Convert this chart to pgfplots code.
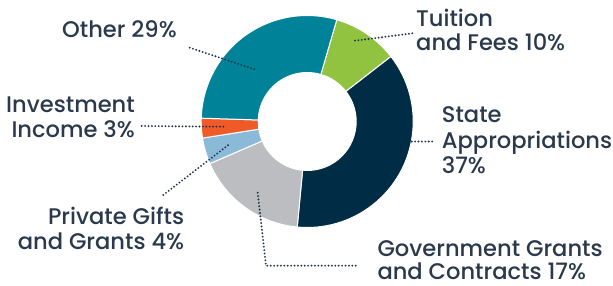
\documentclass[border=0pt]{standalone}
\usepackage{fontspec}
\setmainfont{Poppins}[UprightFont=* Medium]
\usepackage{pgfplots}
\usepackage{pgfplotstable}
\pgfplotsset{compat=1.18}
\definecolor{cTuition}{RGB}{146,195,64}
\definecolor{cState}{RGB}{0,45,69}
\definecolor{cGov}{RGB}{188,189,192}
\definecolor{cPriv}{RGB}{139,186,217}
\definecolor{cInv}{RGB}{240,90,40}
\definecolor{cOther}{RGB}{0,130,152}
\definecolor{txt}{RGB}{42,58,76}
\definecolor{lead}{RGB}{30,52,74}
\pgfplotstableread{
value color
10 cTuition
37 cState
17 cGov
4 cPriv
3 cInv
29 cOther
}\shares
\begin{document}
\begin{tikzpicture}
\begin{axis}[hide axis, x=1pt, y=1pt, xmin=0, xmax=613, ymin=0, ymax=286, clip=false]
\gdef\acc{73.8}
\foreach \i in {0,...,5}{%
  \pgfplotstablegetelem{\i}{value}\of\shares \let\v=\pgfplotsretval
  \pgfplotstablegetelem{\i}{color}\of\shares \let\c=\pgfplotsretval
  \pgfmathsetmacro\aend{\acc-3.6*\v}%
  \edef\temp{\noexpand\fill[\c, draw=white, line width=1pt, line join=round]
    (axis cs:{307.2+106*cos(\acc)},{164.5+106*sin(\acc)})
    arc[start angle=\acc, end angle=\aend, radius=106pt]
    -- (axis cs:{307.2+49*cos(\aend)},{164.5+49*sin(\aend)})
    arc[start angle=\aend, end angle=\acc, radius=49pt] -- cycle;}%
  \temp
  \xdef\acc{\aend}%
}
\tikzset{lk/.style={lead, line width=2.1pt, line cap=round, dash pattern=on 0pt off 3.4pt}}
\draw[lk] (axis cs:189.7,238.3) -- (axis cs:256.7,216);
\draw[lk] (axis cs:141.7,160) -- (axis cs:224,159.3);
\draw[lk] (axis cs:163.3,91) -- (axis cs:228.3,141);
\draw[lk] (axis cs:257.7,93.3) -- (axis cs:266,20.3) -- (axis cs:359,20.3);
\draw[lk] (axis cs:355,245.3) -- (axis cs:412.7,252.7);
\draw[lk] (axis cs:411.7,144.5) -- (axis cs:435,144.5);
\tikzset{lb/.style={txt, font=\fontsize{22.6}{25}\selectfont, inner sep=0pt}}
\node[lb, anchor=base east] at (axis cs:177,248) {Other 29\%};
\node[lb, anchor=base east] at (axis cs:135,173) {Investment};
\node[lb, anchor=base east] at (axis cs:135,148) {Income 3\%};
\node[lb, anchor=base east] at (axis cs:184.3,61) {Private Gifts};
\node[lb, anchor=base east] at (axis cs:184.3,36) {and Grants 4\%};
\node[lb, anchor=base west] at (axis cs:416,259.3) {Tuition};
\node[lb, anchor=base west] at (axis cs:416,235.3) {and Fees 10\%};
\node[lb, anchor=base west] at (axis cs:441.7,163.7) {State};
\node[lb, anchor=base west] at (axis cs:441.7,137.7) {Appropriations};
\node[lb, anchor=base west] at (axis cs:441.7,112.7) {37\%};
\node[lb, anchor=base west] at (axis cs:377.3,29) {Government Grants};
\node[lb, anchor=base west] at (axis cs:377.3,6.5) {and Contracts 17\%};
\end{axis}
\pgfresetboundingbox
\path (0,0) rectangle (613pt,286pt);
\end{tikzpicture}
\end{document}
